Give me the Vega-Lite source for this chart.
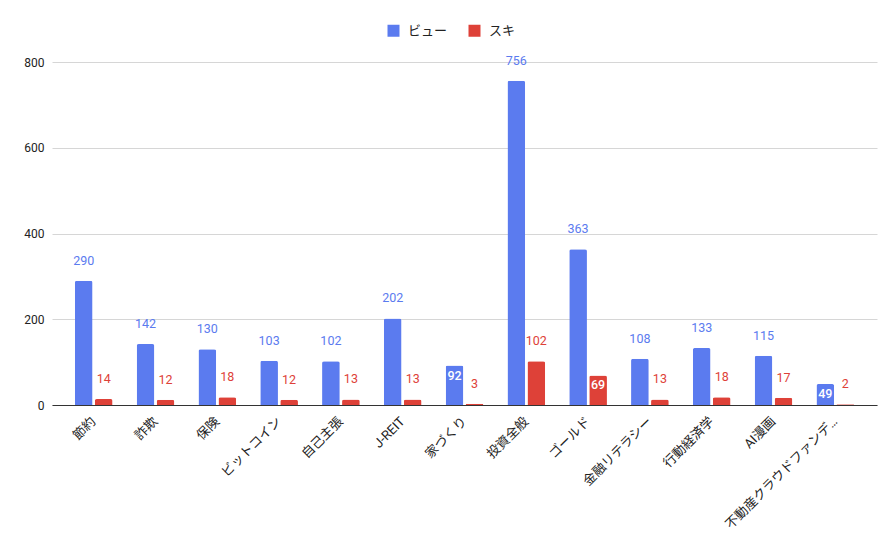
{
  "$schema": "https://vega.github.io/schema/vega-lite/v6.json",
  "width": 825,
  "height": 343,
  "autosize": {"type": "none"},
  "padding": {"left": 52, "top": 62, "right": 13, "bottom": 134},
  "background": "#ffffff",
  "data": {
    "values": [
      {"cat": "節約", "s": "ビュー", "v": 290},
      {"cat": "節約", "s": "スキ", "v": 14},
      {"cat": "詐欺", "s": "ビュー", "v": 142},
      {"cat": "詐欺", "s": "スキ", "v": 12},
      {"cat": "保険", "s": "ビュー", "v": 130},
      {"cat": "保険", "s": "スキ", "v": 18},
      {"cat": "ビットコイン", "s": "ビュー", "v": 103},
      {"cat": "ビットコイン", "s": "スキ", "v": 12},
      {"cat": "自己主張", "s": "ビュー", "v": 102},
      {"cat": "自己主張", "s": "スキ", "v": 13},
      {"cat": "J-REIT", "s": "ビュー", "v": 202},
      {"cat": "J-REIT", "s": "スキ", "v": 13},
      {"cat": "家づくり", "s": "ビュー", "v": 92},
      {"cat": "家づくり", "s": "スキ", "v": 3},
      {"cat": "投資全般", "s": "ビュー", "v": 756},
      {"cat": "投資全般", "s": "スキ", "v": 102},
      {"cat": "ゴールド", "s": "ビュー", "v": 363},
      {"cat": "ゴールド", "s": "スキ", "v": 69},
      {"cat": "金融リテラシー", "s": "ビュー", "v": 108},
      {"cat": "金融リテラシー", "s": "スキ", "v": 13},
      {"cat": "行動経済学", "s": "ビュー", "v": 133},
      {"cat": "行動経済学", "s": "スキ", "v": 18},
      {"cat": "AI漫画", "s": "ビュー", "v": 115},
      {"cat": "AI漫画", "s": "スキ", "v": 17},
      {"cat": "不動産クラウドファンディング", "s": "ビュー", "v": 49},
      {"cat": "不動産クラウドファンディング", "s": "スキ", "v": 2}
    ]
  },
  "encoding": {
    "x": {
      "field": "cat",
      "type": "nominal",
      "sort": null,
      "title": null,
      "scale": {"paddingInner": 0.39, "paddingOuter": 0.37},
      "axis": {
        "labelAngle": -45,
        "labelAlign": "right",
        "labelBaseline": "middle",
        "labelPadding": 14,
        "labelFontSize": 13,
        "labelColor": "#222222",
        "labelLimit": 160,
        "ticks": false,
        "domainColor": "#333333",
        "grid": false
      }
    },
    "xOffset": {
      "field": "s",
      "type": "nominal",
      "sort": ["ビュー", "スキ"],
      "scale": {"paddingInner": 0.115}
    },
    "y": {
      "field": "v",
      "type": "quantitative",
      "title": null,
      "scale": {"domain": [0, 800], "nice": false},
      "axis": {
        "values": [0, 200, 400, 600, 800],
        "domain": false,
        "ticks": false,
        "labelPadding": 8,
        "labelFontSize": 12,
        "labelColor": "#222222",
        "gridColor": "#d6d6d6"
      }
    }
  },
  "layer": [
    {
      "mark": {"type": "bar", "cornerRadiusTopLeft": 2, "cornerRadiusTopRight": 2},
      "encoding": {
        "color": {
          "field": "s",
          "type": "nominal",
          "sort": ["ビュー", "スキ"],
          "scale": {"domain": ["ビュー", "スキ"], "range": ["#5b7bef", "#de4138"]},
          "legend": {
            "orient": "none",
            "legendX": 335,
            "legendY": -38,
            "direction": "horizontal",
            "title": null,
            "symbolType": "square",
            "symbolSize": 144,
            "symbolStrokeWidth": 0,
            "labelFontSize": 13,
            "labelColor": "#222222",
            "labelOffset": 8,
            "columnPadding": 20
          }
        }
      }
    },
    {
      "transform": [
        {"filter": "!((datum.cat == '家づくり' && datum.s == 'ビュー') || (datum.cat == 'ゴールド' && datum.s == 'スキ') || (datum.cat == '不動産クラウドファンディング' && datum.s == 'ビュー'))"}
      ],
      "mark": {"type": "text", "baseline": "middle", "dy": -20, "fontSize": 12.5},
      "encoding": {
        "text": {"field": "v", "type": "quantitative"},
        "color": {
          "field": "s",
          "type": "nominal",
          "scale": {"domain": ["ビュー", "スキ"], "range": ["#6a89ee", "#e0564d"]},
          "legend": null
        }
      }
    },
    {
      "transform": [
        {"filter": "(datum.cat == '家づくり' && datum.s == 'ビュー') || (datum.cat == 'ゴールド' && datum.s == 'スキ') || (datum.cat == '不動産クラウドファンディング' && datum.s == 'ビュー')"}
      ],
      "mark": {"type": "text", "baseline": "middle", "dy": 10, "fontSize": 12.5, "fontWeight": 500, "color": "#ffffff"},
      "encoding": {
        "text": {"field": "v", "type": "quantitative"}
      }
    }
  ],
  "config": {
    "font": "Roboto, 'Noto Sans CJK JP', sans-serif",
    "view": {"stroke": null}
  }
}
